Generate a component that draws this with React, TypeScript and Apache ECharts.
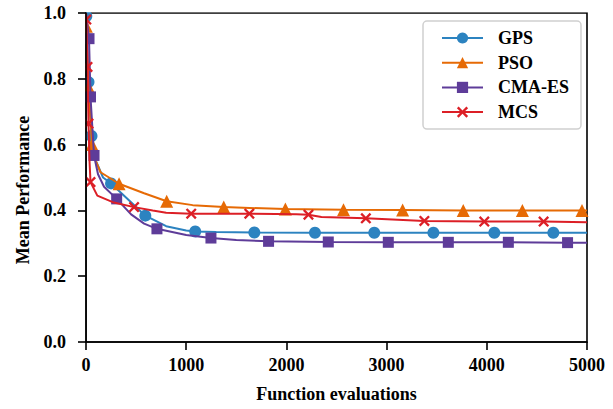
import React, { useEffect, useRef } from "react";
import * as echarts from "echarts";

// Mean performance vs. function evaluations for four optimisers.
// Each series: [evaluations, mean performance, marker?]
const gpsPoints: [number, number, boolean][] = [
  [0, 1.0, false], [3, 0.99, true], [25, 0.79, true], [55, 0.626, true],
  [100, 0.55, false], [170, 0.5, false], [250, 0.482, true], [410, 0.436, false],
  [592, 0.384, true], [800, 0.352, false], [1000, 0.339, false], [1090, 0.336, true],
  [1300, 0.334, false], [1680, 0.333, true], [2285, 0.332, true], [2877, 0.332, true],
  [3467, 0.332, true], [4075, 0.332, true], [4664, 0.332, true], [5000, 0.332, false],
];

const psoPoints: [number, number, boolean][] = [
  [0, 1.0, false], [3, 0.96, true], [25, 0.775, true], [60, 0.6, true],
  [95, 0.552, false], [145, 0.516, false], [330, 0.481, true], [580, 0.452, false],
  [805, 0.428, true], [1065, 0.416, false], [1375, 0.41, true], [1990, 0.404, true],
  [2570, 0.402, true], [3160, 0.401, true], [3765, 0.4, true], [4355, 0.4, true],
  [4950, 0.4, true], [5000, 0.4, false],
];

const cmaesPoints: [number, number, boolean][] = [
  [0, 1.0, false], [30, 0.922, true], [45, 0.745, true], [80, 0.567, true],
  [120, 0.51, false], [180, 0.472, false], [306, 0.435, true], [450, 0.388, false],
  [580, 0.36, false], [708, 0.344, true], [1000, 0.325, false], [1247, 0.316, true],
  [1500, 0.31, false], [1822, 0.306, true], [2418, 0.304, true], [3017, 0.303, true],
  [3616, 0.303, true], [4215, 0.303, true], [4806, 0.302, true], [5000, 0.302, false],
];

const mcsPoints: [number, number, boolean][] = [
  [0, 1.0, false], [3, 0.98, true], [15, 0.836, true], [25, 0.664, true],
  [35, 0.55, false], [45, 0.486, true], [113, 0.445, false], [267, 0.425, false],
  [480, 0.41, true], [666, 0.4, false], [800, 0.393, false], [1050, 0.39, true],
  [1630, 0.39, true], [2100, 0.388, false], [2220, 0.387, true], [2350, 0.38, false],
  [2793, 0.376, true], [3377, 0.368, true], [3975, 0.366, true], [4567, 0.366, true],
  [5000, 0.364, false],
];

const seriesNames = ["GPS", "PSO", "CMA-ES", "MCS"];
const seriesColors = ["#2c83c0", "#e66a05", "#5e3c99", "#dc1f26"];
const xTicks = { min: 0, max: 5000, interval: 1000 };
const yTicks = { min: 0, max: 1, interval: 0.2 };

const CROSS = "path://M15 0 L50 35 L85 0 L100 15 L65 50 L100 85 L85 100 L50 65 L15 100 L0 85 L35 50 L0 15 Z";
const markerShapes = ["circle", "triangle", "rect", CROSS];
const markerSizes = [12, 13, 11, 11];

const FONT = "'Liberation Serif', 'Times New Roman', serif";

const GRID = { left: 86, right: 26, top: 13, bottom: 67 };

function toData(points: [number, number, boolean][]) {
  return points.map(([x, y, m]) =>
    m ? { value: [x, y] } : { value: [x, y], symbol: "none" }
  );
}

export default function App() {
  const ref = useRef<HTMLDivElement>(null);

  useEffect(() => {
    if (!ref.current) return;
    const chart = echarts.init(ref.current, null, { renderer: "svg" });
    const all = [gpsPoints, psoPoints, cmaesPoints, mcsPoints];

    chart.setOption({
      animation: false,
      backgroundColor: "#fff",
      grid: {
        ...GRID,
        show: true,
        borderColor: "#000",
        borderWidth: 1.6,
        containLabel: false,
      },
      legend: {
        orient: "vertical",
        left: 423,
        top: 21,
        z: 20,
        padding: [8, 12, 8, 18],
        itemWidth: 41,
        itemHeight: 14,
        itemGap: 6.7,
        borderColor: "#d0d0d0",
        borderWidth: 1.5,
        borderRadius: 4,
        backgroundColor: "#fff",
        data: seriesNames,
        textStyle: {
          fontFamily: FONT,
          fontWeight: "bold",
          fontSize: 18,
          lineHeight: 18,
          color: "#000",
          padding: [0, 0, 0, 10],
        },
      },
      xAxis: {
        type: "value",
        z: 10,
        min: xTicks.min,
        max: xTicks.max,
        interval: xTicks.interval,
        name: "Function evaluations",
        nameLocation: "middle",
        nameGap: 43,
        nameTextStyle: { fontFamily: FONT, fontWeight: "bold", fontSize: 18, color: "#000" },
        axisLine: { show: true, lineStyle: { color: "#000", width: 1.6 } },
        axisTick: { show: true, length: 8, lineStyle: { color: "#000", width: 1.6 } },
        axisLabel: {
          fontFamily: FONT,
          fontWeight: "bold",
          fontSize: 18,
          color: "#000",
          margin: 14,
          formatter: (v: number) => String(v),
        },
        splitLine: { show: false },
      },
      yAxis: {
        type: "value",
        z: 10,
        min: yTicks.min,
        max: yTicks.max,
        interval: yTicks.interval,
        axisLine: { show: true, lineStyle: { color: "#000", width: 1.6 } },
        axisTick: { show: true, length: 8, lineStyle: { color: "#000", width: 1.6 } },
        axisLabel: {
          fontFamily: FONT,
          fontWeight: "bold",
          fontSize: 18,
          color: "#000",
          margin: 20,
          formatter: (v: number) => v.toFixed(1),
        },
        splitLine: { show: false },
      },
      graphic: [
        // white margins so markers sitting on the plot edge are cut at the frame
        {
          type: "rect",
          z: 9,
          silent: true,
          shape: { x: 0, y: 0, width: GRID.left - 0.8, height: 409 - GRID.bottom + 2 },
          style: { fill: "#fff" },
        },
        {
          type: "rect",
          z: 9,
          silent: true,
          shape: { x: 0, y: 0, width: 613, height: GRID.top - 0.8 },
          style: { fill: "#fff" },
        },
        {
          type: "text",
          z: 11,
          x: 23,
          y: 190,
          rotation: Math.PI / 2,
          style: {
            text: "Mean Performance",
            fontFamily: FONT,
            fontWeight: "bold",
            fontSize: 18,
            fill: "#000",
            align: "center",
            verticalAlign: "middle",
          },
        },
      ],
      series: all.map((pts, i) => ({
        name: seriesNames[i],
        type: "line",
        data: toData(pts),
        symbol: markerShapes[i],
        symbolSize: markerSizes[i],
        showSymbol: true,
        showAllSymbol: true,
        smooth: false,
        clip: true,
        color: seriesColors[i],
        lineStyle: { color: seriesColors[i], width: 2 },
        itemStyle: { color: seriesColors[i], borderWidth: 0 },
        emphasis: { disabled: true },
        z: 2 + i,
      })),
    });

    return () => chart.dispose();
  }, []);

  return (
    <div
      ref={ref}
      style={{ position: "absolute", left: 0, top: 0, width: 613, height: 409 }}
    />
  );
}
